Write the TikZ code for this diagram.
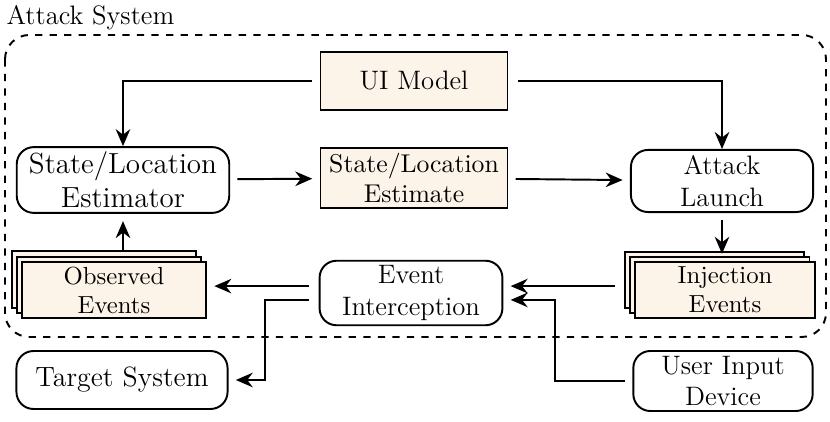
\documentclass[tikz,border=0pt]{standalone}
\usepackage{xcolor}
\usetikzlibrary{arrows.meta,positioning,shadows}
\definecolor{datafill}{RGB}{252,244,233}
\tikzset{
  sysbox/.style={draw, thick, rounded corners=7pt, align=center, inner sep=2pt, font=\fontsize{11}{13}\selectfont},
  databox/.style={draw, thick, fill=datafill, align=center, inner sep=2pt},
  stackbox/.style={databox, font=\fontsize{10.2}{12}\selectfont, double copy shadow={shadow xshift=-0.075cm, shadow yshift=0.075cm}},
  sysarrow/.style={-{Stealth[length=7pt,width=6pt]}, thick},
  grouplabel/.style={font=\fontsize{11}{13}\selectfont, anchor=west}
}

\begin{document}
\begin{tikzpicture}[x=0.0145cm, y=-0.0145cm]
  \useasboundingbox (0,0) rectangle (830,422);

  % attack system frame
  \draw[thick, dashed, rounded corners=10pt] (5,35) rectangle (826,337);
  \node[grouplabel] (attsys) at (-2,18) {Attack System};

  \node[databox, minimum width=2.71cm, minimum height=0.84cm, font=\fontsize{11}{13}\selectfont] (ui) at (414,81) {UI Model};
  \node[sysbox, minimum width=3.08cm, minimum height=0.87cm, font=\fontsize{12}{14}\selectfont] (estor) at (123,180) {State/Location\\Estimator};
  \node[databox, minimum width=2.71cm, minimum height=0.86cm, font=\fontsize{10.6}{12.5}\selectfont] (est) at (414,178) {State/Location\\Estimate};
  \node[sysbox, minimum width=2.64cm, minimum height=0.9cm] (launch) at (722,181) {Attack\\Launch};
  \node[stackbox, minimum width=2.67cm, minimum height=0.81cm] (obs) at (114,290) {Observed\\Events};
  \node[sysbox, minimum width=2.65cm, minimum height=0.86cm] (icpt) at (411,293) {Event\\Interception};
  \node[stackbox, minimum width=2.6cm, minimum height=0.81cm] (inj) at (725,290) {Injection\\Events};
  \node[sysbox, minimum width=3.06cm, minimum height=0.84cm, font=\fontsize{11.5}{13}\selectfont] (target) at (122,380) {Target System};
  \node[sysbox, minimum width=2.6cm, minimum height=0.87cm] (user) at (723,381) {User Input\\Device};

  \draw[sysarrow, shorten <=3pt] (ui.west) -| (estor.north);
  \draw[sysarrow, shorten <=4pt] (ui.east) -| (launch.north);
  \draw[sysarrow, shorten <=3pt, shorten >=3pt] (estor) -- (est);
  \draw[sysarrow, shorten <=3pt, shorten >=3pt] (est) -- (launch);
  \draw[sysarrow, shorten <=3pt, shorten >=3pt] (launch) -- (launch |- inj.north);
  \draw[sysarrow, shorten <=4pt, shorten >=3pt] (estor |- obs.north) -- (estor);
  \draw[sysarrow, shorten <=4pt, shorten >=3pt] ([yshift=0.1cm]icpt.west) -- ([yshift=0.1cm]icpt.west -| obs.east);
  \draw[sysarrow, shorten <=4pt, shorten >=3pt] ([yshift=-0.1cm]icpt.west) -- ++(-54,0) |- (target);
  \draw[sysarrow, shorten <=8pt, shorten >=3pt] ([yshift=0.1cm]icpt.east -| inj.west) -- ([yshift=0.1cm]icpt.east);
  \draw[sysarrow, shorten <=3pt, shorten >=3pt] (user.west) -| ++(-77,0) |- ([yshift=-0.1cm]icpt.east);
\end{tikzpicture}
\end{document}
